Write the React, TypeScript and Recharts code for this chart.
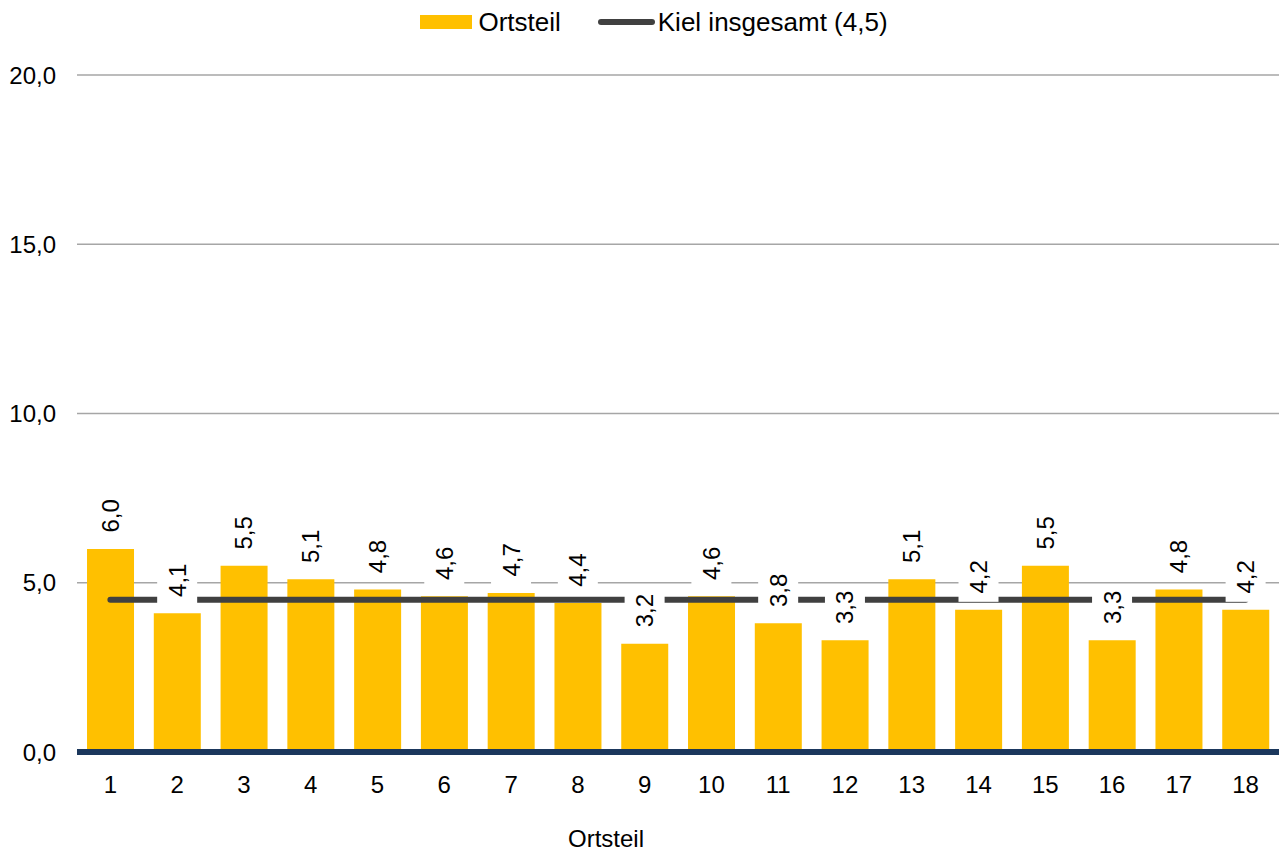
import React from "react";
import {
  ComposedChart,
  Bar,
  Line,
  XAxis,
  YAxis,
  CartesianGrid,
  Legend,
  LabelList,
  Label,
} from "recharts";

const categories = ["1","2","3","4","5","6","7","8","9","10","11","12","13","14","15","16","17","18"];
const ortsteilValues = [6.0,4.1,5.5,5.1,4.8,4.6,4.7,4.4,3.2,4.6,3.8,3.3,5.1,4.2,5.5,3.3,4.8,4.2];
const kielValue = 4.5;
const yTicks = [0, 5, 10, 15, 20];

const data = categories.map((c, i) => ({
  name: c,
  ort: ortsteilValues[i],
  kiel: kielValue,
}));

const FONT = "'Liberation Sans', Arial, sans-serif";
const fmt = (v: number) => v.toFixed(1).replace(".", ",");

const LegendContent = (props: any) => {
  const payload = (props.payload || [])
    .filter((p: any) => p.type !== "none")
    .slice()
    .sort((a: any, b: any) => (a.type === "rect" ? 0 : 1) - (b.type === "rect" ? 0 : 1));
  return (
    <div
      style={{
        height: 75,
        display: "flex",
        justifyContent: "center",
        alignItems: "flex-start",
        fontFamily: FONT,
        fontSize: 26,
        color: "#000",
      }}
    >
      <div style={{ display: "flex", alignItems: "center", marginTop: 7, marginLeft: 29, lineHeight: "30px" }}>
        {payload.map((p: any, i: number) => (
          <div key={i} style={{ display: "flex", alignItems: "center", marginRight: i === 0 ? 37 : 0 }}>
            {p.type === "rect" ? (
              <div style={{ width: 52, height: 14, background: p.color, marginRight: 6 }} />
            ) : (
              <div style={{ width: 57, height: 6, borderRadius: 3, background: p.color, marginRight: 3 }} />
            )}
            <span>{p.value}</span>
          </div>
        ))}
      </div>
    </div>
  );
};

const DataLabel = (props: any) => {
  const { x, y, value } = props;
  if (x == null || y == null) return null;
  return (
    <g>
      <rect x={x - 20} y={y - 56} width={40} height={48} fill="#ffffff" />
      <text
        transform={`translate(${x},${y - 33}) rotate(-90)`}
        textAnchor="middle"
        dominantBaseline="central"
        fontFamily={FONT}
        fontSize={24}
        fill="#000"
      >
        {fmt(value)}
      </text>
    </g>
  );
};

const AxisTitle = (props: any) => {
  const vb = props.viewBox || {};
  const cx = vb.x + vb.width / 2 - 72;
  return (
    <text x={cx} y={vb.y + vb.height - 7} textAnchor="middle" fontFamily={FONT} fontSize={24} fill="#000">
      Ortsteil
    </text>
  );
};

export default function App() {
  return (
    <div style={{ position: "absolute", left: 0, top: 0, background: "#fff" }}>
      <ComposedChart
        width={1280}
        height={854}
        data={data}
        margin={{ top: 0, right: 1, bottom: 0, left: 0 }}
        barCategoryGap="15%"
      >
        <CartesianGrid vertical={false} stroke="#A6A6A6" strokeWidth={1.5} />
        <XAxis
          dataKey="name"
          height={102}
          axisLine={{ stroke: "#1B375C", strokeWidth: 6 }}
          tickLine={false}
          tickSize={0}
          tickMargin={24}
          tick={{ fontFamily: FONT, fontSize: 24, fill: "#000" }}
          interval={0}
        >
          <Label content={<AxisTitle />} />
        </XAxis>
        <YAxis
          width={77}
          domain={[0, 20]}
          ticks={yTicks}
          axisLine={false}
          tickLine={false}
          tickSize={0}
          tickMargin={21}
          tickFormatter={(v: number) => fmt(v)}
          tick={{ fontFamily: FONT, fontSize: 24, fill: "#000" }}
          interval={0}
        />
        <Legend verticalAlign="top" align="center" content={<LegendContent />} />
        <Bar dataKey="ort" name="Ortsteil" fill="#FFC000" isAnimationActive={false} />
        <Line
          dataKey="kiel"
          name="Kiel insgesamt (4,5)"
          stroke="#404040"
          strokeWidth={6}
          strokeLinecap="round"
          dot={false}
          activeDot={false}
          isAnimationActive={false}
        />
        <Line
          dataKey="ort"
          name="labels"
          stroke="none"
          dot={false}
          activeDot={false}
          legendType="none"
          isAnimationActive={false}
        >
          <LabelList dataKey="ort" content={<DataLabel />} />
        </Line>
      </ComposedChart>
    </div>
  );
}
